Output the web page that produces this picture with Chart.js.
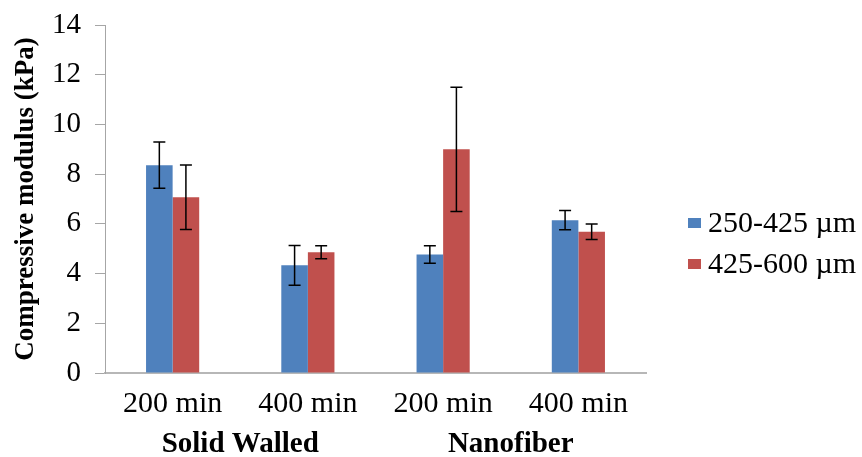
<!DOCTYPE html>
<html>
<head>
<meta charset="utf-8">
<script src="https://cdn.jsdelivr.net/npm/chart.js@4.4.1/dist/chart.umd.min.js"></script>
<style>
html,body{margin:0;padding:0;background:#fff;}
#wrap{width:862px;height:457px;position:relative;}
</style>
</head>
<body>
<div id="wrap"><canvas id="c"></canvas></div>
<script>
const categories = ["200 min", "400 min", "200 min", "400 min"];
const groups = ["Solid Walled", "Nanofiber"];
const seriesNames = ["250-425 \u00b5m", "425-600 \u00b5m"];
const small = [8.36, 4.33, 4.77, 6.15];
const smallErr = [0.93, 0.80, 0.35, 0.39];
const large = [7.07, 4.86, 9.00, 5.68];
const largeErr = [1.30, 0.26, 2.50, 0.31];
const yTicks = [0, 2, 4, 6, 8, 10, 12, 14];

const SERIF = "'Liberation Serif','Times New Roman',serif";

const errorBars = {
  id: 'errorBars',
  afterDatasetsDraw(chart) {
    const ctx = chart.ctx;
    const y = chart.scales.y;
    ctx.save();
    ctx.strokeStyle = '#000';
    ctx.lineWidth = 1.5;
    chart.data.datasets.forEach((ds, di) => {
      const meta = chart.getDatasetMeta(di);
      meta.data.forEach((bar, i) => {
        const v = ds.data[i], e = ds.errors[i];
        const yt = y.getPixelForValue(v + e), yb = y.getPixelForValue(v - e);
        const x = bar.x, hw = 6;
        ctx.beginPath();
        ctx.moveTo(x, yt); ctx.lineTo(x, yb);
        ctx.moveTo(x - hw, yt); ctx.lineTo(x + hw, yt);
        ctx.moveTo(x - hw, yb); ctx.lineTo(x + hw, yb);
        ctx.stroke();
      });
    });
    ctx.restore();
  }
};

const groupLabels = {
  id: 'groupLabels',
  afterDraw(chart) {
    const ctx = chart.ctx;
    const x = chart.scales.x;
    ctx.save();
    ctx.fillStyle = '#000';
    ctx.font = "bold 29px " + SERIF;
    ctx.textAlign = 'center';
    ctx.textBaseline = 'alphabetic';
    groups.forEach((g, gi) => {
      const cx = (x.getPixelForValue(gi * 2) + x.getPixelForValue(gi * 2 + 1)) / 2;
      ctx.fillText(g, cx, 452);
    });
    ctx.restore();
  }
};

const sideLegend = {
  id: 'sideLegend',
  afterDraw(chart) {
    const ctx = chart.ctx;
    ctx.save();
    ctx.font = "30px " + SERIF;
    ctx.textAlign = 'left';
    ctx.textBaseline = 'middle';
    chart.data.datasets.forEach((ds, i) => {
      const cy = 223 + i * 41;
      ctx.fillStyle = ds.backgroundColor;
      ctx.fillRect(688, cy - 5, 13, 10);
      ctx.fillStyle = '#000';
      ctx.fillText(ds.label, 708, cy + 1);
    });
    ctx.restore();
  }
};

new Chart(document.getElementById('c'), {
  type: 'bar',
  data: {
    labels: categories,
    datasets: [
      { label: seriesNames[0], data: small, errors: smallErr, backgroundColor: '#4f81bd' },
      { label: seriesNames[1], data: large, errors: largeErr, backgroundColor: '#c0504d' }
    ]
  },
  options: {
    responsive: true,
    maintainAspectRatio: false,
    animation: false,
    layout: { padding: { left: 0, right: 216, top: 25, bottom: 0 } },
    categoryPercentage: 0.393,
    barPercentage: 1.0,
    plugins: { legend: { display: false }, tooltip: { enabled: false } },
    scales: {
      x: {
        grid: { display: false, drawTicks: false },
        border: { display: true, color: '#b7b7b7', width: 2 },
        ticks: { color: '#000', font: { family: SERIF, size: 30 }, padding: 13, maxRotation: 0 },
        afterFit(s) { s.height = 84; s.paddingLeft = 0; s.paddingRight = 0; }
      },
      y: {
        min: 0, max: 14,
        afterBuildTicks(s) { s.ticks = yTicks.map(v => ({ value: v })); },
        grid: { drawOnChartArea: false, drawTicks: true, tickLength: 10, color: '#a6a6a6' },
        border: { display: true, color: '#a6a6a6', width: 1 },
        ticks: { color: '#000', font: { family: SERIF, size: 29 }, padding: 14 },
        title: { display: true, text: 'Compressive modulus (kPa)', color: '#000',
                 font: { family: SERIF, size: 27, weight: 'bold' }, padding: { top: 10, bottom: 0 } },
        afterFit(s) { s.width = 105; s.paddingTop = 0; s.paddingBottom = 0; }
      }
    }
  },
  plugins: [errorBars, groupLabels, sideLegend]
});
</script>
</body>
</html>
